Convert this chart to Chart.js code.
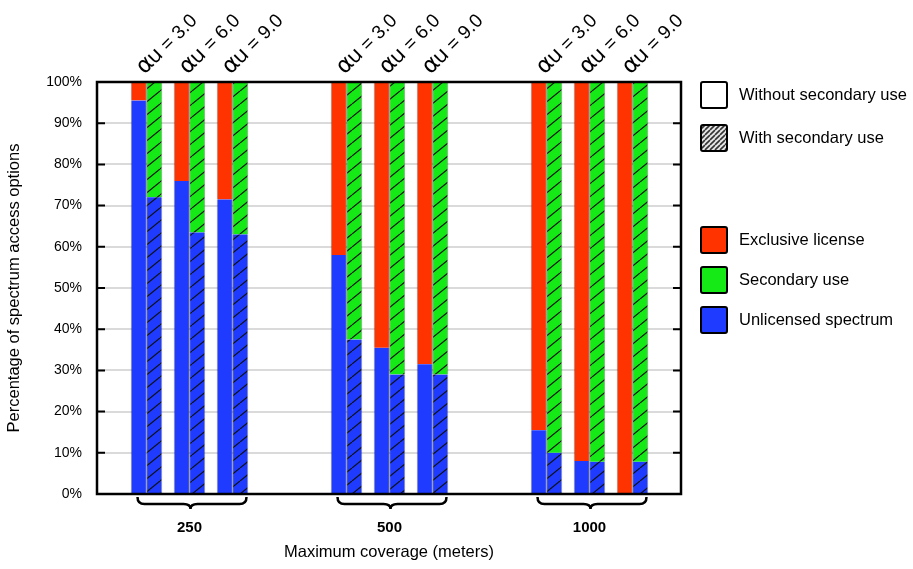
<!DOCTYPE html>
<html lang="en">
<head>
<meta charset="UTF-8">
<title>Spectrum access options</title>
<script src="https://cdn.jsdelivr.net/npm/chart.js"></script>
<style>
    body { margin: 0; background: #fff; }
    canvas { display: block; }
</style>
</head>
<body>
<canvas id="chart" width="913" height="569"></canvas>
<script>
// coverage groups and alpha_u values
const coverage = ['250', '500', '1000'];
const alphaU = ['3.0', '6.0', '9.0'];

// percentages, group by group, alpha_u 3/6/9 inside each group
const unlicensedWithout = [95.5, 76, 71.5, 58, 35.5, 31.5, 15.5, 8, 0];
const exclusiveWithout  = [4.5, 24, 28.5, 42, 64.5, 68.5, 84.5, 92, 100];
const unlicensedWith    = [72, 63.5, 63, 37.5, 29, 29, 10, 7.8, 7.8];
const secondaryWith     = [28, 36.5, 37, 62.5, 71, 71, 90, 92.2, 92.2];

const RED = '#ff3300', GREEN = '#16ea16', BLUE = '#1f3bff';
const FONT = "'Liberation Sans', Arial, sans-serif";

// one x unit per group, pairs PAIR apart, each bar 2*HALF wide
const PAIR = 0.215, HALF = 0.03875;
function xPos(i, side) {
    const g = Math.floor(i / alphaU.length), a = i % alphaU.length;
    return g + (a - 1) * PAIR + side * HALF;
}
const points = (vals, side) => vals.map((v, i) => ({ x: xPos(i, side), y: v }));

function hatch(color, w, h, lw, line) {
    const c = document.createElement('canvas');
    c.width = w; c.height = h;
    const g = c.getContext('2d');
    g.fillStyle = color;
    g.fillRect(0, 0, w, h);
    g.strokeStyle = line;
    g.lineWidth = lw;
    g.beginPath();
    for (const dx of [-w, 0, w]) {
        g.moveTo(dx, h);
        g.lineTo(dx + w, 0);
    }
    g.stroke();
    return g.createPattern(c, 'repeat');
}

const barStyle = {
    barThickness: 15.5,
    borderColor: 'rgba(0,0,0,0.3)',
    borderWidth: { left: 1, right: 1, top: 0, bottom: 0 }
};

const decorations = {
    id: 'decorations',
    afterDraw(chart) {
        const ctx = chart.ctx;
        const { left, right, top, bottom } = chart.chartArea;
        const xs = chart.scales.x, ys = chart.scales.y;
        ctx.save();

        // inward ticks on both sides
        ctx.strokeStyle = '#000';
        ctx.lineWidth = 2;
        ctx.beginPath();
        for (let v = 10; v < 100; v += 10) {
            const y = ys.getPixelForValue(v);
            ctx.moveTo(left, y); ctx.lineTo(left + 8, y);
            ctx.moveTo(right, y); ctx.lineTo(right - 8, y);
        }
        ctx.stroke();

        // frame
        ctx.lineWidth = 2.5;
        ctx.strokeRect(left, top, right - left, bottom - top);

        // braces under groups
        ctx.lineWidth = 2.5;
        coverage.forEach((_, g) => {
            const xc = xs.getPixelForValue(g) + 1;
            const x0 = xc - 53, x1 = xc + 56, yt = bottom + 3, ym = bottom + 10, yb = bottom + 15;
            ctx.beginPath();
            ctx.moveTo(x0, yt);
            ctx.quadraticCurveTo(x0, ym, x0 + 7, ym);
            ctx.lineTo(xc - 7, ym);
            ctx.quadraticCurveTo(xc, ym, xc, yb);
            ctx.quadraticCurveTo(xc, ym, xc + 7, ym);
            ctx.lineTo(x1 - 7, ym);
            ctx.quadraticCurveTo(x1, ym, x1, yt);
            ctx.stroke();
        });

        // alpha_u labels above every pair
        ctx.fillStyle = '#000';
        ctx.textBaseline = 'alphabetic';
        unlicensedWithout.forEach((_, i) => {
            const px = xs.getPixelForValue(xPos(i, 0));
            ctx.save();
            ctx.translate(px - 2, top - 7);
            ctx.rotate(-Math.PI / 4);
            let w = 0;
            ctx.font = "23px 'DejaVu Sans'";
            ctx.fillText('α', w, 0);
            w += ctx.measureText('α').width - 1;
            ctx.font = "21px 'DejaVu Sans'";
            ctx.fillText('u', w, 0);
            w += ctx.measureText('u').width;
            ctx.font = '19px ' + FONT;
            ctx.fillText(' = ' + alphaU[i % alphaU.length], w, 0);
            ctx.restore();
        });

        // legend
        const items = [
            { y: 95, text: 'Without secondary use', fill: '#fff' },
            { y: 138, text: 'With secondary use', fill: hatch('#e4e4e4', 5, 5, 1.6, '#333') },
            { y: 240, text: 'Exclusive license', fill: RED },
            { y: 280, text: 'Secondary use', fill: GREEN },
            { y: 320, text: 'Unlicensed spectrum', fill: BLUE }
        ];
        ctx.font = '16.5px ' + FONT;
        ctx.textBaseline = 'middle';
        items.forEach(it => {
            ctx.beginPath();
            ctx.roundRect(701, it.y - 13, 26, 26, 2);
            ctx.fillStyle = it.fill;
            ctx.fill();
            ctx.lineWidth = 2;
            ctx.strokeStyle = '#000';
            ctx.stroke();
            ctx.fillStyle = '#000';
            ctx.fillText(it.text, 739, it.y);
        });
        ctx.restore();
    }
};

new Chart(document.getElementById('chart'), {
    type: 'bar',
    data: {
        datasets: [
            { label: 'Unlicensed spectrum', data: points(unlicensedWithout, -1), backgroundColor: BLUE, ...barStyle },
            { label: 'Exclusive license', data: points(exclusiveWithout, -1), backgroundColor: RED, ...barStyle },
            { label: 'Unlicensed spectrum (secondary use)', data: points(unlicensedWith, 1), backgroundColor: hatch(BLUE, 16, 13, 1.2, '#111'), ...barStyle },
            { label: 'Secondary use', data: points(secondaryWith, 1), backgroundColor: hatch(GREEN, 16, 13, 1.2, '#111'), ...barStyle }
        ]
    },
    options: {
        responsive: false,
        animation: false,
        layout: { padding: { left: 0, top: 82, right: 232, bottom: 0 } },
        plugins: { legend: { display: false }, tooltip: { enabled: false } },
        scales: {
            x: {
                type: 'linear',
                min: -0.4625,
                max: 2.4575,
                offset: false,
                stacked: true,
                grid: { display: false },
                border: { display: false },
                afterBuildTicks: s => { s.ticks = coverage.map((_, i) => ({ value: i })); },
                afterFit: s => { s.height = 75; },
                ticks: {
                    callback: v => coverage[v],
                    font: { family: FONT, size: 15, weight: 'bold' },
                    color: '#000',
                    padding: 17,
                    maxRotation: 0,
                    autoSkip: false
                },
                title: {
                    display: true,
                    text: 'Maximum coverage (meters)',
                    font: { family: FONT, size: 16.5 },
                    color: '#000',
                    padding: { top: 0, bottom: 7 }
                }
            },
            y: {
                min: 0,
                max: 100,
                stacked: true,
                afterFit: s => { s.width = 97; },
                grid: { color: '#dadada', lineWidth: 2, drawTicks: false },
                border: { display: false },
                ticks: {
                    stepSize: 10,
                    callback: v => v + '%',
                    font: { family: FONT, size: 14 },
                    color: '#000',
                    padding: 15
                },
                title: {
                    display: true,
                    text: 'Percentage of spectrum access options',
                    font: { family: FONT, size: 16.5 },
                    color: '#000',
                    padding: { top: 5, bottom: 0 }
                }
            }
        }
    },
    plugins: [decorations]
});
</script>
</body>
</html>
